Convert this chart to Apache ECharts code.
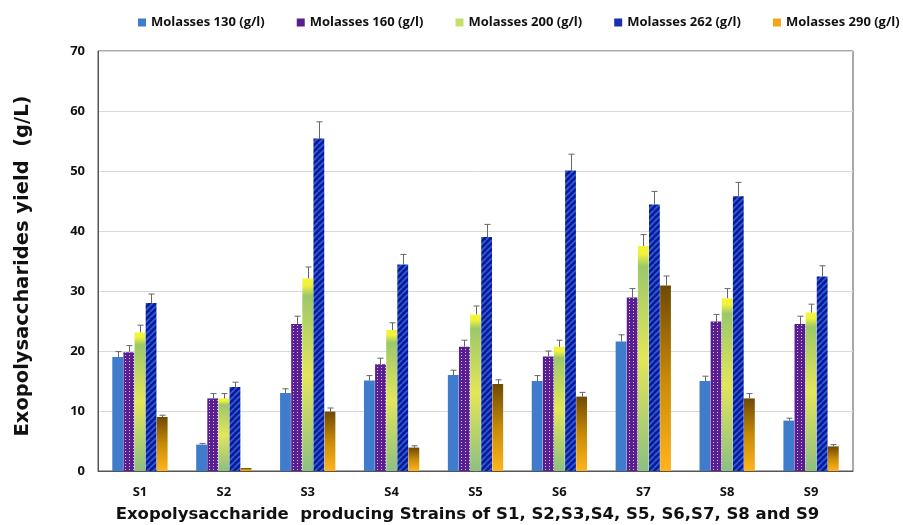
<!DOCTYPE html>
<html>
<head>
<meta charset="utf-8">
<script src="https://cdn.jsdelivr.net/npm/echarts@6/dist/echarts.min.js"></script>
<style>
  html, body { margin: 0; padding: 0; background: #fff; }
  #chart { width: 903px; height: 525px; }
</style>
</head>
<body>
<div id="chart"></div>
<script>
// Strains and yields (g/L) for each molasses concentration, with upper error bars
const categories = ['S1', 'S2', 'S3', 'S4', 'S5', 'S6', 'S7', 'S8', 'S9'];
const seriesNames = ['Molasses 130 (g/l)', 'Molasses 160 (g/l)', 'Molasses 200 (g/l)', 'Molasses 262 (g/l)', 'Molasses 290 (g/l)'];
const m130 = [19.0, 4.4, 13.0, 15.1, 16.0, 15.0, 21.6, 15.0, 8.4];
const m160 = [19.8, 12.1, 24.5, 17.8, 20.7, 19.1, 28.9, 24.9, 24.5];
const m200 = [23.1, 12.1, 32.1, 23.5, 26.1, 20.7, 37.5, 28.8, 26.4];
const m262 = [28.0, 14.0, 55.4, 34.4, 39.0, 50.1, 44.4, 45.8, 32.4];
const m290 = [9.0, 0.5, 9.9, 3.9, 14.5, 12.4, 30.9, 12.1, 4.1];
const err130 = [0.9, 0.2, 0.7, 0.8, 0.8, 0.9, 1.1, 0.8, 0.4];
const err160 = [1.1, 0.8, 1.3, 1.0, 1.1, 0.9, 1.5, 1.2, 1.3];
const err200 = [1.2, 0.8, 1.9, 1.2, 1.4, 1.1, 1.9, 1.6, 1.4];
const err262 = [1.5, 0.8, 2.8, 1.7, 2.1, 2.7, 2.2, 2.3, 1.8];
const err290 = [0.3, 0.0, 0.6, 0.3, 0.7, 0.7, 1.6, 0.8, 0.3];
const yTicks = [0, 10, 20, 30, 40, 50, 60, 70];

const values = [m130, m160, m200, m262, m290];
const errors = [err130, err160, err200, err262, err290];

// Fill patterns
function dotPattern() {
  const c = document.createElement('canvas');
  c.width = 4; c.height = 3;
  const g = c.getContext('2d');
  g.fillStyle = '#5a1f8e';
  g.fillRect(0, 0, 4, 3);
  g.fillStyle = 'rgba(235,215,255,0.85)';
  g.fillRect(1, 1, 1, 1);
  return c;
}
function stripePattern() {
  const s = 6;
  const c = document.createElement('canvas');
  c.width = s; c.height = s;
  const g = c.getContext('2d');
  g.fillStyle = '#0b1a98';
  g.fillRect(0, 0, s, s);
  g.strokeStyle = '#2f5fd8';
  g.lineWidth = 1.6;
  for (const o of [-s, 0, s]) {
    g.beginPath();
    g.moveTo(o, s);
    g.lineTo(o + s, 0);
    g.stroke();
  }
  return c;
}

const fills = [
  '#3f7dcc',
  { image: dotPattern(), repeat: 'repeat' },
  { type: 'linear', x: 0, y: 0, x2: 0, y2: 1, colorStops: [
      { offset: 0, color: '#f4f536' },
      { offset: 0.035, color: '#f2f23c' },
      { offset: 0.09, color: '#9cc86a' },
      { offset: 0.5, color: '#e2e65a' },
      { offset: 1, color: '#8dbf82' }
  ]},
  { image: stripePattern(), repeat: 'repeat' },
  { type: 'linear', x: 0, y: 0, x2: 0, y2: 1, colorStops: [
      { offset: 0, color: '#6e4a04' },
      { offset: 0.5, color: '#c78a08' },
      { offset: 1, color: '#ffb41e' }
  ]}
];
const legendColors = ['#3f7dcc', '#5a1f8e', '#c4df6a', '#1a2fb0', '#f2a614'];

const BAR_W = 10.8;
const BAR_GAP = 0.03;
const FONT = '"Open Sans", "Noto Sans", sans-serif';
const TITLE_FONT = '"DejaVu Sans", "Open Sans", sans-serif';

const series = [];
values.forEach((vals, k) => {
  series.push({
    name: seriesNames[k],
    type: 'bar',
    data: vals,
    barWidth: BAR_W,
    barGap: (BAR_GAP * 100) + '%',
    itemStyle: { color: fills[k] },
    z: 2
  });
});
values.forEach((vals, k) => {
  const offset = (k - 2) * BAR_W * (1 + BAR_GAP);
  series.push({
    type: 'custom',
    name: seriesNames[k] + ' error',
    data: vals.map((v, i) => [i, v, v + errors[k][i]]),
    encode: { x: 0, y: [1, 2] },
    z: 5,
    silent: true,
    renderItem: function (params, api) {
      const base = api.coord([api.value(0), api.value(1)]);
      const top = api.coord([api.value(0), api.value(2)]);
      const x = Math.round(base[0] + offset) + 0.5;
      if (api.value(2) - api.value(1) <= 0) return null;
      const style = { stroke: '#666', lineWidth: 1 };
      return {
        type: 'group',
        children: [
          { type: 'line', shape: { x1: x, y1: base[1], x2: x, y2: top[1] }, style },
          { type: 'line', shape: { x1: x - 3, y1: top[1], x2: x + 3, y2: top[1] }, style }
        ]
      };
    }
  });
});

const chart = echarts.init(document.getElementById('chart'), null, { renderer: 'canvas' });
chart.setOption({
  animation: false,
  backgroundColor: '#fff',
  textStyle: { fontFamily: FONT },
  legend: {
    top: 11,
    left: 133,
    width: 770,
    itemWidth: 8,
    itemHeight: 8,
    itemGap: 32,
    icon: 'rect',
    textStyle: { fontFamily: FONT, fontWeight: 'bold', fontSize: 13, color: '#111' },
    data: seriesNames.map((n, k) => ({ name: n, itemStyle: { color: legendColors[k] } }))
  },
  grid: {
    left: 98, right: 50, top: 51, bottom: 54,
    outerBoundsMode: 'none',
    containLabel: false,
    show: true, borderColor: '#555', borderWidth: 1
  },
  xAxis: {
    type: 'category',
    data: categories,
    axisLine: { lineStyle: { color: '#555' } },
    axisTick: { show: false },
    axisLabel: { fontFamily: FONT, fontWeight: 'bold', fontSize: 13, color: '#111', margin: 15 },
    name: 'Exopolysaccharide  producing Strains of S1, S2,S3,S4, S5, S6,S7, S8 and S9',
    nameLocation: 'middle',
    nameGap: 35,
    nameTextStyle: { fontFamily: TITLE_FONT, fontWeight: 'bold', fontSize: 16.5, color: '#111', padding: [0, 16, 0, 0] },
  },
  yAxis: {
    type: 'value',
    min: yTicks[0],
    max: yTicks[yTicks.length - 1],
    interval: yTicks[1] - yTicks[0],
    axisLine: { show: true, lineStyle: { color: '#555' } },
    axisTick: { show: false },
    splitLine: { lineStyle: { color: '#d9d9d9' } },
    axisLabel: { fontFamily: FONT, fontWeight: 'bold', fontSize: 13, color: '#111', margin: 13 },
    name: 'Exopolysaccharides yield  (g/L)',
    nameLocation: 'middle',
    nameGap: 65,
    nameTextStyle: { fontFamily: TITLE_FONT, fontWeight: 'bold', fontSize: 19.5, color: '#111', padding: [0, 10, 0, 0] }
  },
  series
});
</script>
</body>
</html>
